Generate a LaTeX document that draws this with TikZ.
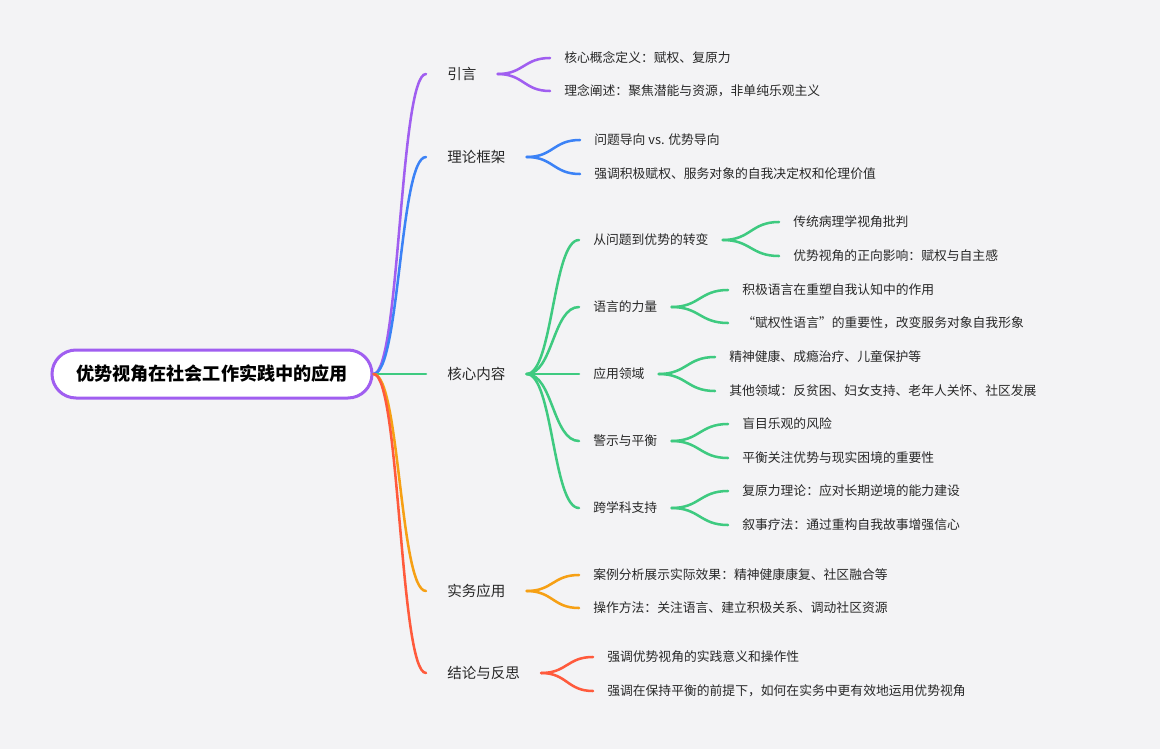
\documentclass[tikz,border=0pt]{standalone}
\usepackage{fontspec}
\setmainfont{Noto Sans CJK SC}
\usetikzlibrary{calc}
\definecolor{bg}{RGB}{243,243,245}
\definecolor{txt}{RGB}{40,40,40}
\definecolor{cpurple}{RGB}{160,94,240}
\definecolor{cblue}{RGB}{59,130,246}
\definecolor{cgreen}{RGB}{62,202,128}
\definecolor{corange}{RGB}{246,160,20}
\definecolor{cred}{RGB}{255,90,60}
\begin{document}
\begin{tikzpicture}[x=0.75pt,y=-0.75pt,
  rootbox/.style={draw=cpurple,line width=2.25pt,fill=white,rounded corners=18pt,
    minimum width=240pt,minimum height=36pt,inner sep=0pt,
    font=\fontsize{13.6}{16}\selectfont\bfseries,text=black},
  lone/.style={anchor=west,inner xsep=15.75pt,inner ysep=2pt,
    font=\fontsize{10.9}{13}\selectfont,text=txt},
  ltwo/.style={anchor=west,inner xsep=10.5pt,inner ysep=2pt,
    font=\fontsize{9.6}{12}\selectfont,text=txt},
  br/.style={line width=1.9pt,line cap=round,
    to path={.. controls ($(\tikztostart)!0.5!(\tikztostart-|\tikztotarget)$)
      and ($(\tikztotarget)!0.5!(\tikztostart|-\tikztotarget)$) .. (\tikztotarget)}}
]
\fill[bg] (0,0) rectangle (1160,749);
\useasboundingbox (0,0) rectangle (1160,749);

% level 1
\node[lone] (intro) at (426,74) {引言};
\node[lone] (theory) at (426,157) {理论框架};
\node[lone] (core) at (426,374) {核心内容};
\node[lone] (prac) at (426,591) {实务应用};
\node[lone] (concl) at (426,673) {结论与反思};

% intro leaves
\node[ltwo] (i1) at (550,58) {核心概念定义：赋权、复原力};
\node[ltwo] (i2) at (550,91) {理念阐述：聚焦潜能与资源，非单纯乐观主义};
% theory leaves
\node[ltwo] (t1) at (580,140) {问题导向 vs. 优势导向};
\node[ltwo] (t2) at (580,174) {强调积极赋权、服务对象的自我决定权和伦理价值};
% core children
\node[ltwo] (c1) at (579,240) {从问题到优势的转变};
\node[ltwo] (c2) at (579,307) {语言的力量};
\node[ltwo] (c3) at (579,374) {应用领域};
\node[ltwo] (c4) at (579,441) {警示与平衡};
\node[ltwo] (c5) at (579,508) {跨学科支持};
% core grandchildren
\node[ltwo] (c1a) at (779,222) {传统病理学视角批判};
\node[ltwo] (c1b) at (779,256) {优势视角的正向影响：赋权与自主感};
\node[ltwo] (c2a) at (728,290) {积极语言在重塑自我认知中的作用};
\node[ltwo] (c2b) at (728,323) {“赋权性语言”的重要性，改变服务对象自我形象};
\node[ltwo] (c3a) at (715,357) {精神健康、成瘾治疗、儿童保护等};
\node[ltwo] (c3b) at (715,391) {其他领域：反贫困、妇女支持、老年人关怀、社区发展};
\node[ltwo] (c4a) at (728,424) {盲目乐观的风险};
\node[ltwo] (c4b) at (728,458) {平衡关注优势与现实困境的重要性};
\node[ltwo] (c5a) at (728,491) {复原力理论：应对长期逆境的能力建设};
\node[ltwo] (c5b) at (728,525) {叙事疗法：通过重构自我故事增强信心};
% practice leaves
\node[ltwo] (p1) at (579,575) {案例分析展示实际效果：精神健康康复、社区融合等};
\node[ltwo] (p2) at (579,608) {操作方法：关注语言、建立积极关系、调动社区资源};
% conclusion leaves
\node[ltwo] (r1) at (593,657) {强调优势视角的实践意义和操作性};
\node[ltwo] (r2) at (593,691) {强调在保持平衡的前提下，如何在实务中更有效地运用优势视角};

% root
\node[rootbox] (root) at (212,374) {优势视角在社会工作实践中的应用};

% connectors level 1
\draw[br,cpurple] (root.east) to (intro.west);
\draw[br,cblue] (root.east) to (theory.west);
\draw[br,cgreen] (root.east) to (core.west);
\draw[br,corange] (root.east) to (prac.west);
\draw[br,cred] (root.east) to (concl.west);

% level 2
\draw[br,cpurple] (intro.east) to (i1.west);
\draw[br,cpurple] (intro.east) to (i2.west);
\draw[br,cblue] (theory.east) to (t1.west);
\draw[br,cblue] (theory.east) to (t2.west);
\foreach \n in {c1,c2,c3,c4,c5} {\draw[br,cgreen] (core.east) to (\n.west);}
\draw[br,corange] (prac.east) to (p1.west);
\draw[br,corange] (prac.east) to (p2.west);
\draw[br,cred] (concl.east) to (r1.west);
\draw[br,cred] (concl.east) to (r2.west);

% level 3
\foreach \n in {c1,c2,c3,c4,c5} {
  \draw[br,cgreen] (\n.east) to (\n a.west);
  \draw[br,cgreen] (\n.east) to (\n b.west);
}
\end{tikzpicture}
\end{document}
